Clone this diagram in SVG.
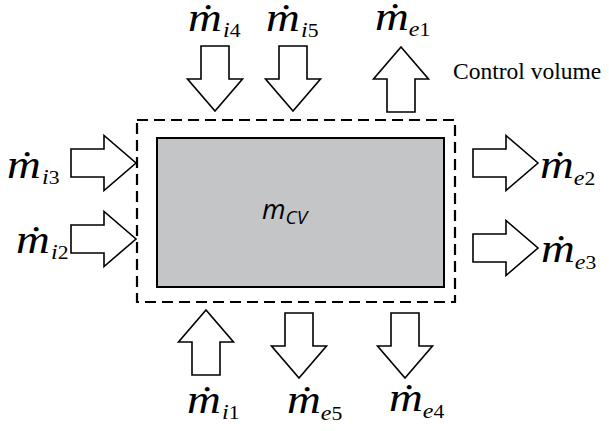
<svg xmlns="http://www.w3.org/2000/svg" xmlns:xlink="http://www.w3.org/1999/xlink" width="609" height="431" viewBox="0 0 609 431">
<style>
.arw{fill:#fff;stroke:#000;stroke-width:1.6;stroke-linejoin:miter}
.t{font-family:'Liberation Serif','Times New Roman',serif;fill:#000}
.m{font-style:italic;font-size:39px}
.s{font-style:italic;font-size:20px}
.n{font-style:normal;font-size:18px}
.cv{stroke:#000;stroke-width:2.2;fill:none;stroke-dasharray:11 6}
.sys{fill:#c4c5c7;stroke:#000;stroke-width:2}
</style>
<defs>
<polygon id="arrow" class="arw" points="-14,0 14,0 14,33 27.5,33 0,65 -27.5,33 -14,33"/>
</defs>
<rect width="609" height="431" fill="#fff"/>
<g id="control-volume">
<rect class="cv" x="137" y="120" width="318" height="182"/>
<text class="t" x="453" y="79" font-size="23.5">Control volume</text>
</g>
<g id="system">
<rect class="sys" x="157" y="138" width="287" height="149"/>
<text x="262" y="219" font-family="'Open Sans','Liberation Sans',sans-serif" font-style="italic"><tspan font-size="27">m</tspan><tspan font-size="19" dy="5">CV</tspan></text>
</g>
<g id="connectors">
<use xlink:href="#arrow" transform="translate(215,46)"/>
<use xlink:href="#arrow" transform="translate(293,46)"/>
<use xlink:href="#arrow" transform="translate(401,112) rotate(180)"/>
<use xlink:href="#arrow" transform="translate(71,163) rotate(-90)"/>
<use xlink:href="#arrow" transform="translate(71,239) rotate(-90)"/>
<use xlink:href="#arrow" transform="translate(473,163) rotate(-90)"/>
<use xlink:href="#arrow" transform="translate(473,248) rotate(-90)"/>
<use xlink:href="#arrow" transform="translate(206,375) rotate(180)"/>
<use xlink:href="#arrow" transform="translate(299,313)"/>
<use xlink:href="#arrow" transform="translate(405,313)"/>
</g>
<g id="flow-i4"><text class="t" transform="translate(188,31) scale(1.2,1)"><tspan class="m">ṁ</tspan><tspan class="s" dy="6" dx="1">i</tspan><tspan class="n">4</tspan></text></g>
<g id="flow-i5"><text class="t" transform="translate(266,31) scale(1.2,1)"><tspan class="m">ṁ</tspan><tspan class="s" dy="6" dx="1">i</tspan><tspan class="n">5</tspan></text></g>
<g id="flow-e1"><text class="t" transform="translate(375,30) scale(1.2,1)"><tspan class="m">ṁ</tspan><tspan class="s" dy="6">e</tspan><tspan class="n">1</tspan></text></g>
<g id="flow-i3"><text class="t" transform="translate(7,178) scale(1.2,1)"><tspan class="m">ṁ</tspan><tspan class="s" dy="6" dx="1">i</tspan><tspan class="n">3</tspan></text></g>
<g id="flow-i2"><text class="t" transform="translate(16,253) scale(1.2,1)"><tspan class="m">ṁ</tspan><tspan class="s" dy="6" dx="1">i</tspan><tspan class="n">2</tspan></text></g>
<g id="flow-e2"><text class="t" transform="translate(540,178) scale(1.2,1)"><tspan class="m">ṁ</tspan><tspan class="s" dy="7">e</tspan><tspan class="n">2</tspan></text></g>
<g id="flow-e3"><text class="t" transform="translate(541,262) scale(1.2,1)"><tspan class="m">ṁ</tspan><tspan class="s" dy="7">e</tspan><tspan class="n">3</tspan></text></g>
<g id="flow-i1"><text class="t" transform="translate(187,413) scale(1.2,1)"><tspan class="m">ṁ</tspan><tspan class="s" dy="6" dx="1">i</tspan><tspan class="n">1</tspan></text></g>
<g id="flow-e5"><text class="t" transform="translate(287,413) scale(1.2,1)"><tspan class="m">ṁ</tspan><tspan class="s" dy="7">e</tspan><tspan class="n">5</tspan></text></g>
<g id="flow-e4"><text class="t" transform="translate(389,411) scale(1.2,1)"><tspan class="m">ṁ</tspan><tspan class="s" dy="7">e</tspan><tspan class="n">4</tspan></text></g>
</svg>
